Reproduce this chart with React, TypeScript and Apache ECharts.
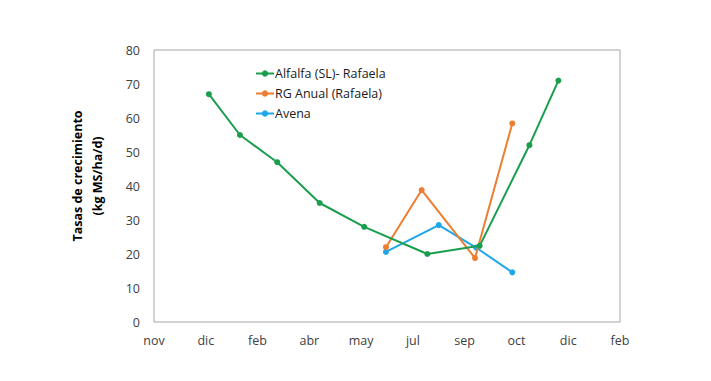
import React, { useEffect, useRef } from "react";
import * as echarts from "echarts";

const xTickLabels = ["nov", "dic", "feb", "abr", "may", "jul", "sep", "oct", "dic", "feb"];
const yTicks = [0, 10, 20, 30, 40, 50, 60, 70, 80];
const yTitle = "Tasas de crecimiento\n(kg MS/ha/d)";

const alfalfaX = [1.06, 1.66, 2.38, 3.2, 4.06, 5.28, 6.29, 7.25, 7.81];
const alfalfaY = [67, 55, 47, 35, 28, 20, 22.4, 52, 71];

const rgX = [4.48, 5.17, 6.2, 6.92];
const rgY = [22, 38.8, 18.8, 58.4];

const avenaX = [4.48, 5.5, 6.22, 6.92];
const avenaY = [20.6, 28.5, 21.9, 14.6];

const seriesNames = ["Alfalfa (SL)- Rafaela", "RG Anual (Rafaela)", "Avena"];
const colors = ["#1a9e4e", "#ed7d31", "#1ea7e8"];

const zip = (xs: number[], ys: number[]) => xs.map((x, i) => [x, ys[i]]);

export default function App() {
  const ref = useRef<HTMLDivElement>(null);
  useEffect(() => {
    if (!ref.current) return;
    const chart = echarts.init(ref.current, undefined, { renderer: "svg" });
    const font = "Open Sans";
    const datasets = [zip(alfalfaX, alfalfaY), zip(rgX, rgY), zip(avenaX, avenaY)];
    chart.setOption({
      animation: false,
      backgroundColor: "#ffffff",
      textStyle: { fontFamily: font },
      grid: { left: 154, right: 91, top: 50, bottom: 59, show: true, borderColor: "#a6a6a6", borderWidth: 1 },
      graphic: [
        {
          type: "text",
          x: 87,
          y: 176,
          rotation: Math.PI / 2,
          style: {
            text: yTitle,
            fontFamily: font,
            fontSize: 12.5,
            fontWeight: "bold",
            fill: "#000000",
            lineHeight: 20,
            align: "center",
            verticalAlign: "middle",
          },
        },
      ],
      legend: {
        orient: "vertical",
        left: 250,
        top: 62,
        itemWidth: 18,
        itemHeight: 8,
        itemGap: 7,
        data: seriesNames,
        textStyle: { fontFamily: font, fontSize: 12.5, color: "#1a1a1a", padding: [0, 0, 0, -4] },
      },
      xAxis: {
        type: "value",
        min: 0,
        max: 9,
        interval: 1,
        axisLine: { show: false },
        axisTick: { show: false },
        splitLine: { show: false },
        axisLabel: {
          margin: 12,
          fontSize: 12.5,
          color: "#404040",
          fontFamily: font,
          formatter: (v: number) => xTickLabels[Math.round(v)] ?? "",
        },
      },
      yAxis: {
        type: "value",
        min: yTicks[0],
        max: yTicks[yTicks.length - 1],
        interval: 10,
        axisLine: { show: false },
        axisTick: { show: false },
        splitLine: { show: false },
        axisLabel: { margin: 14, fontSize: 12.5, color: "#404040", fontFamily: font },
      },
      series: seriesNames.map((name, i) => ({
        name,
        type: "line",
        data: datasets[i],
        symbol: "circle",
        symbolSize: 6,
        lineStyle: { width: 2, color: colors[i] },
        itemStyle: { color: colors[i] },
        z: 3 - i,
      })),
    });
    return () => chart.dispose();
  }, []);
  return <div ref={ref} style={{ width: 711, height: 381, position: "absolute", left: 0, top: 0 }} />;
}
